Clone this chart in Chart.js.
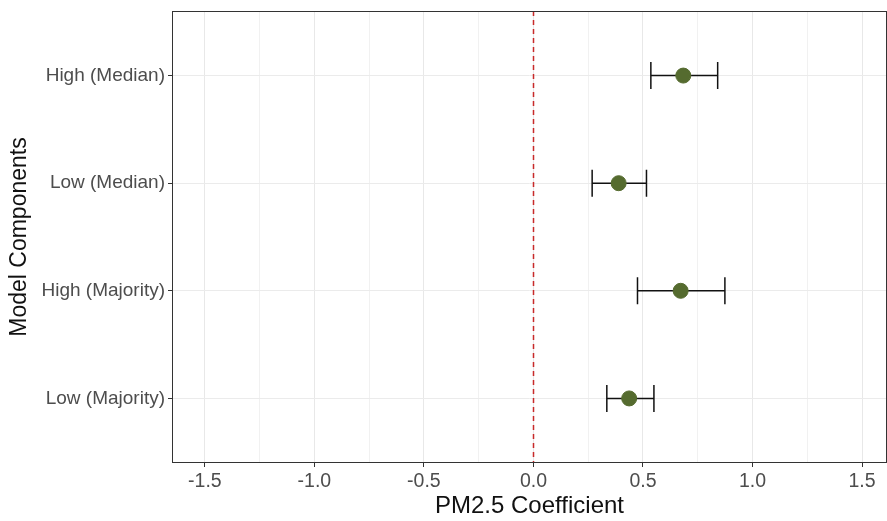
<!DOCTYPE html>
<html>
<head>
<meta charset="utf-8">
<script src="https://cdn.jsdelivr.net/npm/chart.js@4.4.0/dist/chart.umd.min.js"></script>
<style>
  html, body { margin: 0; padding: 0; background: #fff; }
  #wrap { width: 887px; height: 521px; }
</style>
</head>
<body>
<div id="wrap"><canvas id="coefChart" width="887" height="521"></canvas></div>
<script>
// Data (top to bottom)
const categories = ["High (Median)", "Low (Median)", "High (Majority)", "Low (Majority)"];
const estimates = [0.684, 0.389, 0.672, 0.437];
const lowerCI = [0.536, 0.268, 0.475, 0.335];
const upperCI = [0.841, 0.516, 0.874, 0.550];

const xMajorTicks = [-1.5, -1.0, -0.5, 0.0, 0.5, 1.0, 1.5];
const xMinorTicks = [-1.25, -0.75, -0.25, 0.25, 0.75, 1.25];
const refLine = 0;

// categories go bottom -> top as 1..n on the y axis
const yPos = categories.map((c, i) => categories.length - i);

const points = categories.map((c, i) => ({ x: estimates[i], y: yPos[i] }));

// Error bars and reference line drawn via the scales
const errorBarPlugin = {
  id: "errorBars",
  beforeDatasetsDraw(chart) {
    const { ctx, chartArea, scales: { x, y } } = chart;
    ctx.save();
    // dashed reference line
    ctx.strokeStyle = "#c82a2a";
    ctx.lineWidth = 1.5;
    ctx.setLineDash([5, 4]);
    const xr = Math.round(x.getPixelForValue(refLine)) + 0.5;
    ctx.beginPath();
    ctx.moveTo(xr, chartArea.top);
    ctx.lineTo(xr, chartArea.bottom);
    ctx.stroke();
    ctx.setLineDash([]);

    // whiskers
    ctx.strokeStyle = "#111";
    ctx.lineWidth = 1.5;
    categories.forEach((c, i) => {
      const py = y.getPixelForValue(yPos[i]);
      const half = Math.abs(y.getPixelForValue(yPos[i] + 0.125) - py);
      const x0 = x.getPixelForValue(lowerCI[i]);
      const x1 = x.getPixelForValue(upperCI[i]);
      ctx.beginPath();
      ctx.moveTo(x0, py); ctx.lineTo(x1, py);
      ctx.moveTo(x0, py - half); ctx.lineTo(x0, py + half);
      ctx.moveTo(x1, py - half); ctx.lineTo(x1, py + half);
      ctx.stroke();
    });
    ctx.restore();
  },
  afterDatasetsDraw(chart) {
    const { ctx, chartArea } = chart;
    ctx.save();
    ctx.strokeStyle = "#333";
    ctx.lineWidth = 1;
    ctx.strokeRect(chartArea.left + 0.5, chartArea.top + 0.5,
      chartArea.right - chartArea.left - 1, chartArea.bottom - chartArea.top - 1);
    ctx.restore();
  }
};

const isMajor = (v) => xMajorTicks.some((m) => Math.abs(m - v) < 1e-9);

new Chart(document.getElementById("coefChart"), {
  type: "scatter",
  data: {
    datasets: [{
      data: points,
      backgroundColor: "#556B2F",
      borderColor: "#556B2F",
      pointRadius: 7.5,
      pointHoverRadius: 7.5
    }]
  },
  options: {
    responsive: false,
    animation: false,
    layout: { autoPadding: false, padding: { top: 11, right: 0, left: 0, bottom: 0 } },
    plugins: {
      legend: { display: false },
      tooltip: { enabled: false }
    },
    scales: {
      x: {
        type: "linear",
        min: -1.65,
        max: 1.614,
        afterBuildTicks(axis) {
          axis.ticks = xMajorTicks.concat(xMinorTicks).sort((a, b) => a - b).map((v) => ({ value: v }));
        },
        afterFit(axis) {
          axis.height = 58;
          axis.paddingLeft = 0;
          axis.paddingRight = 0;
        },
        border: { display: false },
        grid: {
          color: (ctx) => isMajor(ctx.tick.value) ? "#e8e8e8" : "#f1f1f1",
          lineWidth: 1,
          tickLength: 4,
          tickColor: (ctx) => isMajor(ctx.tick.value) ? "#333" : "rgba(0,0,0,0)"
        },
        ticks: {
          padding: 3,
          maxRotation: 0,
          autoSkip: false,
          color: "#4d4d4d",
          font: { family: "'Liberation Sans', Arial, sans-serif", size: 19.5 },
          callback: (v) => isMajor(v) ? v.toFixed(1) : ""
        },
        title: {
          display: true,
          text: "PM2.5 Coefficient",
          color: "#111",
          font: { family: "'Liberation Sans', Arial, sans-serif", size: 24 },
          padding: { top: 0, bottom: 0 }
        }
      },
      y: {
        type: "linear",
        min: 0.4,
        max: categories.length + 0.6,
        afterBuildTicks(axis) {
          axis.ticks = yPos.slice().reverse().map((v) => ({ value: v }));
        },
        afterFit(axis) {
          axis.width = 172;
          axis.paddingTop = 0;
          axis.paddingBottom = 0;
        },
        border: { display: false },
        grid: {
          color: "#ebebeb",
          lineWidth: 1,
          tickLength: 4,
          tickColor: "#333"
        },
        ticks: {
          padding: 3,
          autoSkip: false,
          color: "#4d4d4d",
          font: { family: "'Liberation Sans', Arial, sans-serif", size: 19 },
          callback: (v) => categories[categories.length - v]
        },
        title: {
          display: true,
          text: "Model Components",
          color: "#111",
          font: { family: "'Liberation Sans', Arial, sans-serif", size: 23 },
          padding: { top: 6, bottom: 0 }
        }
      }
    }
  },
  plugins: [errorBarPlugin]
});
</script>
</body>
</html>
